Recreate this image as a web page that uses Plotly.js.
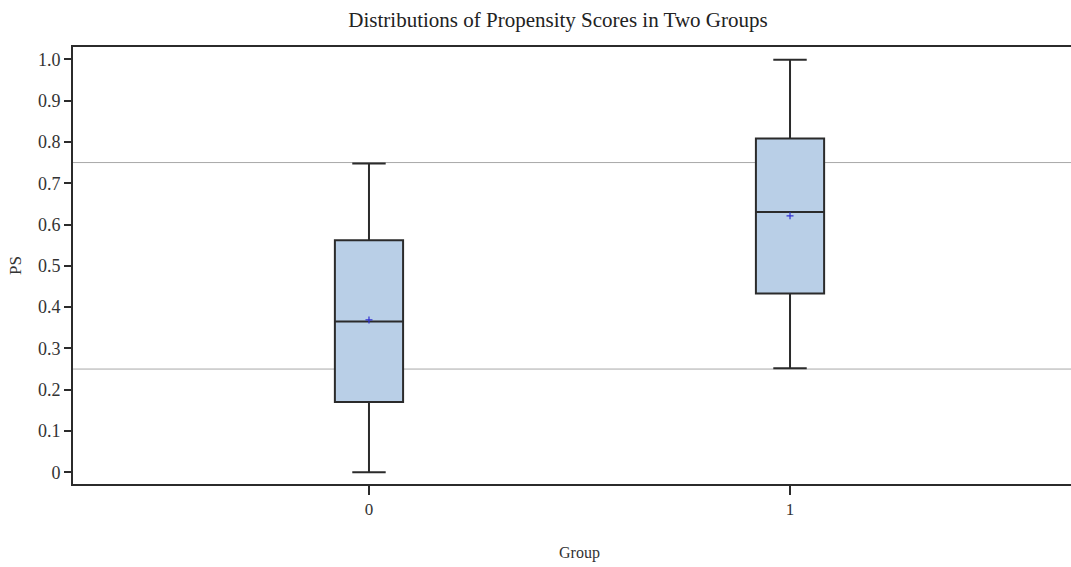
<!DOCTYPE html>
<html>
<head>
<meta charset="utf-8">
<script src="https://cdn.plot.ly/plotly-3.0.1.min.js"></script>
<style>
html,body{margin:0;padding:0;overflow:hidden;background:#fff;}
#chart{width:1087px;height:567px;}
</style>
</head>
<body>
<div id="chart"></div>
<script>
const groups = ["0", "1"];
const groupPos = [0, 1];
const lowerWhisker = [0.0, 0.252];
const q1 = [0.170, 0.433];
const median = [0.365, 0.630];
const q3 = [0.562, 0.808];
const upperWhisker = [0.748, 0.999];
const means = [0.369, 0.621];
const refLines = [0.25, 0.75];
const yTickVals = [0, 0.1, 0.2, 0.3, 0.4, 0.5, 0.6, 0.7, 0.8, 0.9, 1.0];
const yTickText = ["0", "0.1", "0.2", "0.3", "0.4", "0.5", "0.6", "0.7", "0.8", "0.9", "1.0"];

const fontFam = "Liberation Serif, Times New Roman, serif";

const boxTrace = {
  type: "box",
  x: groupPos,
  q1: q1,
  median: median,
  q3: q3,
  lowerfence: lowerWhisker,
  upperfence: upperWhisker,
  width: 0.162,
  whiskerwidth: 0.49,
  fillcolor: "#b9cfe7",
  line: {color: "#2b2b2b", width: 2},
  boxpoints: false,
  showlegend: false,
  hoverinfo: "none"
};

const meanTrace = {
  type: "scatter",
  mode: "markers",
  x: groupPos,
  y: means,
  marker: {symbol: "cross-thin", size: 5, line: {color: "#3030d0", width: 1.2}, color: "#3030d0"},
  showlegend: false,
  hoverinfo: "none"
};

const shapes = refLines.map(v => ({
  type: "line", xref: "paper", x0: 0, x1: 1, yref: "y", y0: v, y1: v,
  line: {color: "#a8a8a8", width: 1}, layer: "below"
}));

const layout = {
  width: 1087,
  height: 567,
  paper_bgcolor: "#fff",
  plot_bgcolor: "#fff",
  margin: {l: 73, r: 1, t: 47, b: 83},
  font: {family: fontFam, color: "#333", size: 14},
  title: {
    text: "Distributions of Propensity Scores in Two Groups",
    font: {family: fontFam, size: 21, color: "#222"},
    xref: "container", x: 558/1087, xanchor: "center",
    yref: "container", y: 1 - 20/567, yanchor: "middle"
  },
  xaxis: {
    range: [-0.703, 1.703],
    tickvals: groupPos,
    ticktext: groups,
    showgrid: false,
    zeroline: false,
    showline: true,
    mirror: true,
    linecolor: "#2b2b2b",
    linewidth: 2,
    ticks: "outside",
    ticklen: 9,
    tickwidth: 2,
    tickcolor: "#2b2b2b",
    tickfont: {family: fontFam, size: 17, color: "#333"},
    title: {text: "Group", font: {family: fontFam, size: 16, color: "#333"}, standoff: 28}
  },
  yaxis: {
    range: [-0.0283, 1.0298],
    tickvals: yTickVals,
    ticktext: yTickText,
    showgrid: false,
    zeroline: false,
    showline: true,
    linecolor: "#2b2b2b",
    linewidth: 2,
    ticks: "outside",
    ticklen: 7,
    tickwidth: 2,
    tickcolor: "#2b2b2b",
    tickfont: {family: fontFam, size: 18, color: "#333"},
    title: {text: "PS", font: {family: fontFam, size: 17, color: "#333"}, standoff: 12}
  },
  shapes: shapes
};

Plotly.newPlot("chart", [boxTrace, meanTrace], layout, {displayModeBar: false, staticPlot: true});
</script>
</body>
</html>
